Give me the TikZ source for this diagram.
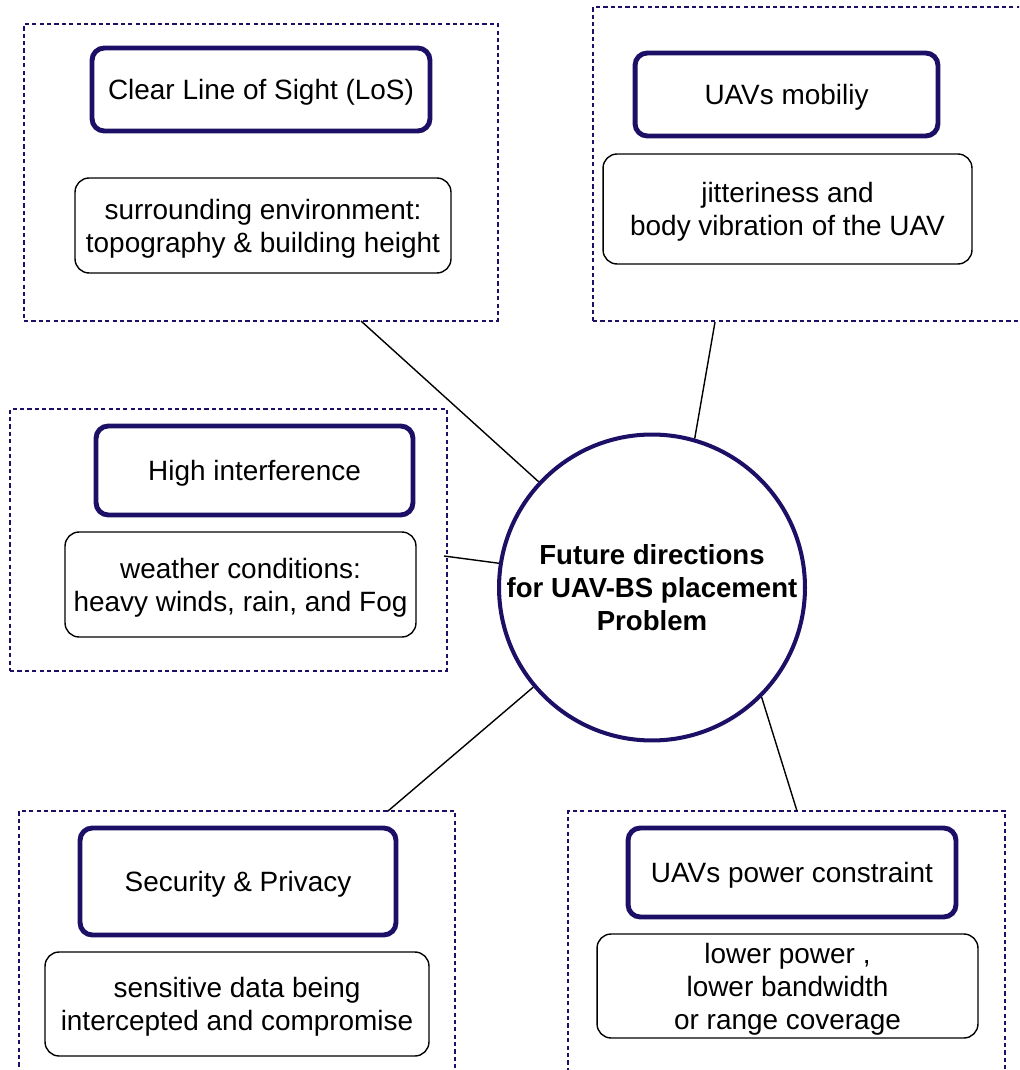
\documentclass[tikz,border=0pt]{standalone}
\usepackage{fontspec}
\setmainfont{Liberation Sans}
\usepackage{xcolor}
\usepackage{tikz}
\usetikzlibrary{arrows,shapes}
\definecolor{uavblue}{HTML}{1C1066}

\begin{document}
\begin{tikzpicture}[x=0.02cm,y=-0.02cm,
        every node/.style={font=\fontsize{15.9}{18.8}\selectfont, align=center, inner sep=0pt},
        group/.style={draw=uavblue, line width=0.8pt, dash pattern=on 2.4pt off 1.8pt},
        head/.style={draw=uavblue, line width=2.8pt, rounded corners=7pt, text depth=0pt},
        info/.style={draw=black, line width=0.8pt, rounded corners=8pt, text depth=0pt},
        hub/.style={draw=uavblue, line width=2.3pt, circle, minimum size=6.12cm,
            font=\bfseries\fontsize{15.7}{18.8}\selectfont},
        link/.style={draw=black, line width=0.8pt}]
        \clip (0,0) rectangle (1019,1070);
        %\useasboundingbox (0,0) rectangle (1019,1070);
        \node[group, minimum width=9.48cm, minimum height=5.94cm] (g1) at (261,172.5) {};
        \node[group, minimum width=8.74cm, minimum height=6.28cm] (g2) at (811.5,164) {};
        \node[group, minimum width=8.74cm, minimum height=5.24cm] (g3) at (228.5,540) {};
        \node[group, minimum width=8.72cm, minimum height=5.58cm] (g4) at (237,950.5) {};
        \node[group, minimum width=8.74cm, minimum height=5.58cm] (g5) at (786.5,950.5) {};

        \node[head, minimum width=6.76cm, minimum height=1.66cm] (los) at (261,89.5) {Clear Line of Sight (LoS)};
        \node[info, minimum width=7.52cm, minimum height=1.9cm] (losinfo) at (263,225.5) {surrounding environment:\\topography \& building height};
        \node[head, minimum width=6.06cm, minimum height=1.66cm] (mob) at (786.5,94.5) {UAVs mobiliy};
        \node[info, minimum width=7.38cm, minimum height=2.2cm] (mobinfo) at (787.5,209) {jitteriness and\\body vibration of the UAV};
        \node[head, minimum width=6.34cm, minimum height=1.78cm] (intf) at (254.5,470.5) {High interference};
        \node[info, minimum width=7.02cm, minimum height=2.1cm] (intfinfo) at (240.5,584.5) {weather conditions:\\heavy winds, rain, and Fog};
        \node[head, minimum width=6.32cm, minimum height=2.14cm] (sec) at (238,881.5) {Security \& Privacy};
        \node[info, minimum width=7.68cm, minimum height=2.08cm] (secinfo) at (237,1004) {sensitive data being\\intercepted and compromise};
        \node[head, minimum width=6.56cm, minimum height=1.78cm] (pow) at (792,872.5) {UAVs power constraint};
        \node[info, minimum width=7.62cm, minimum height=2.08cm] (powinfo) at (787.5,986) {lower power ,\\lower bandwidth\\or range coverage};

        \node[hub] (fdir) at (652,587.5) {Future directions\\for UAV-BS placement\\Problem};

        \coordinate (e1) at (361,321);
        \coordinate (e2) at (715,322);
        \coordinate (e3) at (444,556);
        \coordinate (e4) at (388,811);
        \coordinate (e5) at (797,811);
        \draw[link] (e1) -- (fdir.137);
        \draw[link] (e2) -- (fdir.74);
        \draw[link] (e3) -- (fdir.171);
        \draw[link] (e4) -- (fdir.220);
        \draw[link] (e5) -- (fdir.-45);
    \end{tikzpicture}
\end{document}
